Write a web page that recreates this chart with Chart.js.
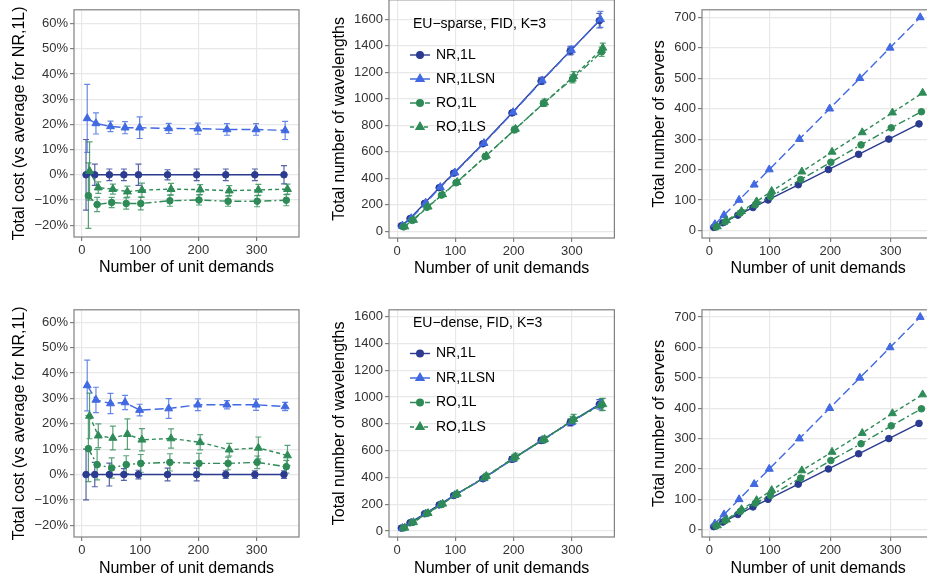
<!DOCTYPE html>
<html>
<head>
<meta charset="utf-8">
<script src="https://cdn.jsdelivr.net/npm/chart.js@4.4.1/dist/chart.umd.min.js"></script>
<style>
  html, body { margin: 0; padding: 0; background: #fff; }
  body { width: 927px; height: 580px; position: relative; overflow: hidden; }
  canvas { position: absolute; }
</style>
</head>
<body>
<canvas id="c1" width="305" height="285" style="left:0px;top:0px"></canvas>
<canvas id="c2" width="310" height="295" style="left:310px;top:-10px"></canvas>
<canvas id="c3" width="320" height="285" style="left:620px;top:0px"></canvas>
<canvas id="c4" width="305" height="280" style="left:0px;top:300px"></canvas>
<canvas id="c5" width="310" height="280" style="left:310px;top:300px"></canvas>
<canvas id="c6" width="320" height="280" style="left:620px;top:300px"></canvas>
<script>
// --- datos ---
const demandas = [10, 25, 50, 75, 100, 150, 200, 250, 300, 350];
const series = ['NR,1L', 'NR,1LSN', 'RO,1L', 'RO,1LS'];

const ticksDemandas = [0, 100, 200, 300];
const ticksCoste = [-20, -10, 0, 10, 20, 30, 40, 50, 60];
const ticksLongitudes = [0, 200, 400, 600, 800, 1000, 1200, 1400, 1600];
const ticksServidores = [0, 100, 200, 300, 400, 500, 600, 700];

// coste (%) EU-sparse
const costeSparseNR1L = [0, 0, 0, 0, 0, 0, 0, 0, 0, 0];
const costeSparseNR1LSN = [22.4, 20.4, 19.2, 18.7, 18.7, 18.4, 18.3, 18.0, 18.0, 17.6];
const costeSparseRO1L = [-8.3, -11.8, -11.0, -11.4, -11.4, -10.3, -10.0, -10.5, -10.5, -10.1];
const costeSparseRO1LS = [1.5, -5.1, -5.7, -6.7, -6.1, -5.7, -5.9, -6.3, -6.0, -5.7];
const errCosteSparseNR1L = [14, 4.2, 2.3, 2.3, 4.2, 2, 2.3, 2.3, 2.3, 3.6];
const errCosteSparseNR1LSN = [13.5, 4.2, 2.1, 2.4, 4.3, 2, 2.2, 2.3, 2.3, 3.6];
const errCosteSparseRO1L = [13, 2.8, 2, 2.2, 2.5, 2.2, 2, 2, 2.2, 2.2];
const errCosteSparseRO1LS = [11.6, 2.3, 2, 2.2, 2.8, 2.3, 2, 2, 2.2, 2];

// coste (%) EU-dense
const costeDenseNR1L = [0, 0, 0, 0, 0, 0, 0, 0, 0, 0];
const costeDenseNR1LSN = [35.1, 29.4, 28.0, 28.4, 25.4, 26.0, 27.5, 27.5, 27.5, 26.8];
const costeDenseRO1L = [10.2, 3.9, 2.6, 3.9, 4.4, 4.8, 4.4, 4.4, 4.8, 3.1];
const costeDenseRO1LS = [23.1, 15.3, 14.4, 15.9, 13.7, 14.2, 12.7, 9.8, 10.5, 7.5];
const errCosteDenseNR1L = [10, 4.8, 4.5, 2.3, 1.7, 2.5, 2.5, 1.5, 1.5, 1.5];
const errCosteDenseNR1LSN = [10, 5, 4, 2.8, 2.3, 3.9, 2.3, 1.6, 2.2, 1.6];
const errCosteDenseRO1L = [13, 6, 4, 3.5, 3.5, 3.4, 4, 2.5, 2.5, 2.5];
const errCosteDenseRO1LS = [9, 4.7, 4.7, 6, 4.4, 3.8, 3, 2.5, 4.3, 4];

// longitudes de onda EU-sparse
const ondasSparseNR1L = [40, 95, 210, 328, 438, 660, 893, 1133, 1362, 1590];
const ondasSparseNR1LSN = [42, 97, 213, 332, 442, 665, 898, 1138, 1368, 1600];
const ondasSparseRO1L = [32, 81, 180, 272, 365, 563, 765, 965, 1150, 1355];
const ondasSparseRO1LS = [34, 84, 184, 277, 370, 570, 772, 972, 1170, 1385];
const errOndasSparseNR1L = [5, 8, 10, 12, 15, 15, 18, 25, 30, 55];
const errOndasSparseNR1LSN = [5, 8, 10, 12, 15, 15, 18, 25, 30, 60];
const errOndasSparseRO1L = [5, 8, 10, 12, 15, 18, 20, 22, 30, 35];
const errOndasSparseRO1LS = [5, 8, 10, 12, 15, 18, 20, 25, 35, 35];

// longitudes de onda EU-dense
const ondasDenseNR1L = [22, 62, 129, 195, 265, 390, 535, 675, 810, 945];
const ondasDenseNR1LSN = [22, 62, 130, 196, 268, 393, 537, 678, 813, 945];
const ondasDenseRO1L = [23, 64, 131, 198, 272, 400, 545, 680, 825, 942];
const ondasDenseRO1LS = [24, 65, 133, 203, 277, 410, 555, 685, 835, 945];
const errOndasDenseNR1L = [3, 5, 8, 10, 12, 15, 20, 20, 25, 35];
const errOndasDenseNR1LSN = [3, 5, 8, 10, 12, 15, 20, 20, 25, 35];
const errOndasDenseRO1L = [4, 6, 10, 12, 15, 20, 25, 22, 30, 45];
const errOndasDenseRO1LS = [4, 6, 10, 12, 15, 20, 25, 22, 35, 45];

// servidores EU-sparse
const servSparseNR1L = [10, 25, 50, 75, 100, 150, 200, 250, 300, 350];
const servSparseNR1LSN = [20, 50, 100, 150, 200, 300, 400, 500, 600, 700];
const servSparseRO1L = [11, 28, 57, 84, 111, 167, 224, 281, 337, 390];
const servSparseRO1LS = [13, 33, 63, 95, 129, 193, 258, 322, 387, 452];

// servidores EU-dense
const servDenseNR1L = [10, 25, 50, 75, 100, 150, 200, 250, 300, 350];
const servDenseNR1LSN = [20, 50, 100, 150, 200, 300, 400, 500, 600, 700];
const servDenseRO1L = [12, 30, 60, 87, 113, 170, 228, 283, 342, 398];
const servDenseRO1LS = [14, 33, 67, 97, 130, 195, 256, 318, 383, 445];

// --- estilo ---
const fuente = '"Liberation Sans", Arial, sans-serif';
const colores = ['#2b3b8f', '#4169e1', '#2e8b57', '#2e8b57'];
const guiones = [[], [9, 4], [7, 3, 2, 3], [4, 3]];
const marcas = ['circle', 'triangle', 'circle', 'triangle'];
const desplazamiento = [-3, -1, 1, 3]; // dodge horizontal como en ggplot

Chart.defaults.font.family = fuente;

const barrasError = {
    id: 'barrasError',
    beforeDatasetsDraw(chart) {
        const { ctx, chartArea } = chart;
        const ejeY = chart.scales.y;
        ctx.save();
        ctx.beginPath();
        ctx.rect(chartArea.left, chartArea.top, chartArea.width, chartArea.height);
        ctx.clip();
        chart.data.datasets.forEach((ds, i) => {
            if (!ds.errores) return;
            const meta = chart.getDatasetMeta(i);
            ctx.strokeStyle = ds.borderColor;
            ctx.globalAlpha = 0.8;
            ctx.lineWidth = 1.2;
            ctx.setLineDash([]);
            meta.data.forEach((pt, j) => {
                const v = ds.data[j].y, e = ds.errores[j];
                const y1 = ejeY.getPixelForValue(v - e);
                const y2 = ejeY.getPixelForValue(v + e);
                ctx.beginPath();
                ctx.moveTo(pt.x, y1); ctx.lineTo(pt.x, y2);
                ctx.moveTo(pt.x - 3, y1); ctx.lineTo(pt.x + 3, y1);
                ctx.moveTo(pt.x - 3, y2); ctx.lineTo(pt.x + 3, y2);
                ctx.stroke();
            });
        });
        ctx.restore();
    }
};

const marcoPanel = {
    id: 'marcoPanel',
    afterDatasetsDraw(chart) {
        const { ctx, chartArea: a } = chart;
        ctx.save();
        ctx.strokeStyle = '#808080';
        ctx.lineWidth = 1.2;
        ctx.strokeRect(a.left, a.top, a.width, a.height);
        ctx.restore();
    }
};

const leyendaInterna = {
    id: 'leyendaInterna',
    afterDraw(chart, args, opts) {
        if (!opts || !opts.titulo) return;
        const ctx = chart.ctx;
        ctx.save();
        ctx.fillStyle = '#000';
        ctx.font = '14px ' + fuente;
        ctx.textBaseline = 'middle';
        ctx.fillText(opts.titulo, opts.x + 3, opts.y);
        chart.data.datasets.forEach((ds, i) => {
            const y = opts.y + opts.primero + i * opts.paso;
            ctx.strokeStyle = ds.borderColor;
            ctx.fillStyle = ds.borderColor;
            ctx.lineWidth = 1.4;
            ctx.setLineDash(ds.borderDash);
            ctx.beginPath();
            ctx.moveTo(opts.x, y);
            ctx.lineTo(opts.x + 20, y);
            ctx.stroke();
            ctx.setLineDash([]);
            Chart.helpers.drawPoint(ctx, {
                pointStyle: ds.pointStyle, radius: ds.pointRadius, borderWidth: 1, rotation: 0
            }, opts.x + 10, y);
            ctx.fillStyle = '#000';
            ctx.fillText(ds.label, opts.x + 26, y);
        });
        ctx.restore();
    }
};

function crearPanel(idCanvas, valores, errores, cfg) {
    const datasets = series.map((nombre, s) => ({
        label: nombre,
        data: demandas.map((x, i) => ({ x: x + desplazamiento[s], y: valores[s][i] })),
        errores: errores ? errores[s] : null,
        order: series.length - s, // la última serie queda encima, como en ggplot
        borderColor: colores[s],
        backgroundColor: colores[s],
        borderWidth: 1.4,
        borderDash: guiones[s],
        pointStyle: marcas[s],
        pointRadius: marcas[s] === 'circle' ? 3.3 : 4.6,
        pointBorderWidth: 1,
        tension: 0,
        fill: false
    }));

    new Chart(document.getElementById(idCanvas), {
        type: 'line',
        data: { datasets },
        options: {
            responsive: false,
            animation: false,
            events: [],
            layout: { padding: { top: cfg.padTop, right: cfg.padRight, left: 0, bottom: 0 } },
            plugins: {
                legend: { display: false },
                tooltip: { enabled: false },
                leyendaInterna: cfg.leyenda || {}
            },
            scales: {
                x: {
                    type: 'linear',
                    min: cfg.xMin,
                    max: cfg.xMax,
                    afterBuildTicks: eje => { eje.ticks = ticksDemandas.map(v => ({ value: v })); },
                    afterFit: eje => { eje.height = cfg.altoX; },
                    grid: { color: '#e8e8e8', lineWidth: 1.2, tickColor: '#808080', tickLength: 4 },
                    border: { display: false },
                    ticks: { font: { size: 13 }, color: '#333', padding: 2, maxRotation: 0 },
                    title: {
                        display: true, text: 'Number of unit demands', color: '#000',
                        font: { size: 16 }, padding: { top: 0, bottom: cfg.padTituloX }
                    }
                },
                y: {
                    min: cfg.yMin,
                    max: cfg.yMax,
                    afterBuildTicks: eje => { eje.ticks = cfg.ticksY.map(v => ({ value: v })); },
                    afterFit: eje => { eje.width = cfg.anchoY; },
                    grid: { color: '#e8e8e8', lineWidth: 1.2, tickColor: '#808080', tickLength: 4 },
                    border: { display: false },
                    ticks: {
                        font: { size: 13 }, color: '#333', padding: 2,
                        callback: cfg.formato || (v => v)
                    },
                    title: {
                        display: true, text: cfg.tituloY, color: '#000',
                        font: { size: 16 }, padding: { top: cfg.padTituloY, bottom: 0 }
                    }
                }
            }
        },
        plugins: [barrasError, marcoPanel, leyendaInterna]
    });
}

const porcentaje = v => (v < 0 ? '\u2212' + Math.abs(v) : v) + '%';

crearPanel('c1',
    [costeSparseNR1L, costeSparseNR1LSN, costeSparseRO1L, costeSparseRO1LS],
    [errCosteSparseNR1L, errCosteSparseNR1LSN, errCosteSparseRO1L, errCosteSparseRO1LS],
    { padTop: 7, padRight: 6, anchoY: 74, altoX: 48, padTituloX: 8, padTituloY: 10,
      xMin: -13.7, xMax: 372.8, yMin: -24.7, yMax: 65.5, ticksY: ticksCoste,
      formato: porcentaje, tituloY: 'Total cost (vs average for NR,1L)' });

crearPanel('c4',
    [costeDenseNR1L, costeDenseNR1LSN, costeDenseRO1L, costeDenseRO1LS],
    [errCosteDenseNR1L, errCosteDenseNR1LSN, errCosteDenseRO1L, errCosteDenseRO1LS],
    { padTop: 8, padRight: 6, anchoY: 74, altoX: 43, padTituloX: 2, padTituloY: 10,
      xMin: -13.7, xMax: 372.8, yMin: -24.6, yMax: 64.9, ticksY: ticksCoste,
      formato: porcentaje, tituloY: 'Total cost (vs average for NR,1L)' });

crearPanel('c2',
    [ondasSparseNR1L, ondasSparseNR1LSN, ondasSparseRO1L, ondasSparseRO1LS],
    [errOndasSparseNR1L, errOndasSparseNR1LSN, errOndasSparseRO1L, errOndasSparseRO1LS],
    { padTop: 5, padRight: 3, anchoY: 79, altoX: 47, padTituloX: 7, padTituloY: 20,
      xMin: -14.1, xMax: 372.9, yMin: -52, yMax: 1748, ticksY: ticksLongitudes,
      tituloY: 'Total number of wavelengths',
      leyenda: { titulo: 'EU\u2212sparse, FID, K=3', x: 100, y: 34, primero: 31, paso: 24 } });

crearPanel('c5',
    [ondasDenseNR1L, ondasDenseNR1LSN, ondasDenseRO1L, ondasDenseRO1LS],
    [errOndasDenseNR1L, errOndasDenseNR1LSN, errOndasDenseRO1L, errOndasDenseRO1LS],
    { padTop: 8, padRight: 3, anchoY: 79, altoX: 43, padTituloX: 2, padTituloY: 20,
      xMin: -14.1, xMax: 372.9, yMin: -44.5, yMax: 1650, ticksY: ticksLongitudes,
      tituloY: 'Total number of wavelengths',
      leyenda: { titulo: 'EU\u2212dense, FID, K=3', x: 100, y: 23.5, primero: 30, paso: 24.5 } });

crearPanel('c3',
    [servSparseNR1L, servSparseNR1LSN, servSparseRO1L, servSparseRO1LS],
    null,
    { padTop: 8, padRight: 2.4, anchoY: 82, altoX: 47, padTituloX: 7, padTituloY: 30,
      xMin: -12.4, xMax: 372.5, yMin: -25, yMax: 725, ticksY: ticksServidores,
      tituloY: 'Total number of servers' });

crearPanel('c6',
    [servDenseNR1L, servDenseNR1LSN, servDenseRO1L, servDenseRO1LS],
    null,
    { padTop: 8, padRight: 2.4, anchoY: 82, altoX: 43, padTituloX: 2, padTituloY: 30,
      xMin: -12.4, xMax: 372.5, yMin: -24, yMax: 724, ticksY: ticksServidores,
      tituloY: 'Total number of servers' });
</script>
</body>
</html>
